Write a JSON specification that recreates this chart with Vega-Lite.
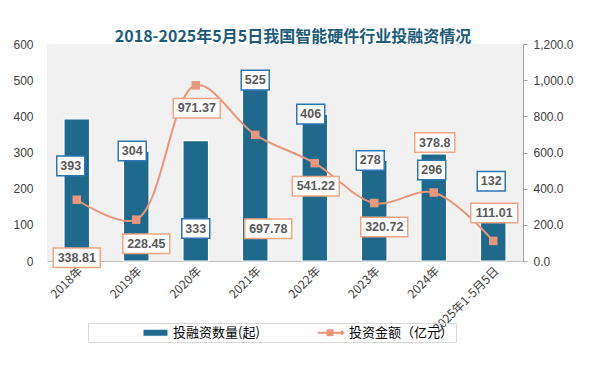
{
  "$schema": "https://vega.github.io/schema/vega-lite/v6.json",
  "width": 476,
  "height": 217,
  "autosize": {"type": "none"},
  "padding": {"left": 47, "top": 44, "right": 68, "bottom": 104},
  "background": "white",
  "title": {
    "text": "2018-2025年5月5日我国智能硬件行业投融资情况",
    "font": "Noto Sans CJK SC",
    "fontSize": 16,
    "fontWeight": "bold",
    "color": "#1d5b7a",
    "anchor": "middle",
    "frame": "group",
    "offset": -7,
    "dx": 8
  },
  "data": {
    "values": [
      {"year": "2018年", "count": 393, "amount": 338.81},
      {"year": "2019年", "count": 304, "amount": 228.45},
      {"year": "2020年", "count": 333, "amount": 971.37},
      {"year": "2021年", "count": 525, "amount": 697.78},
      {"year": "2022年", "count": 406, "amount": 541.22},
      {"year": "2023年", "count": 278, "amount": 320.72},
      {"year": "2024年", "count": 296, "amount": 378.8},
      {"year": "2025年1-5月5日", "count": 132, "amount": 111.01}
    ]
  },
  "encoding": {
    "x": {
      "field": "year",
      "type": "nominal",
      "sort": null,
      "scale": {"paddingInner": 0, "paddingOuter": 0},
      "axis": {
        "title": null,
        "labelAngle": -45,
        "labelFont": "Noto Sans CJK SC",
        "labelFontSize": 12,
        "labelColor": "#404040",
        "domainColor": "#bfbfbf",
        "ticks": false,
        "labelPadding": 4
      }
    }
  },
  "layer": [
    {
      "encoding": {
        "y": {
          "field": "count",
          "type": "quantitative",
          "scale": {"domain": [0, 600], "nice": false},
          "axis": {
            "title": null,
            "orient": "left",
            "values": [0, 100, 200, 300, 400, 500, 600],
            "domain": false,
            "ticks": false,
            "grid": false,
            "labelPadding": 14,
            "labelFont": "Liberation Sans",
            "labelFontSize": 12,
            "labelColor": "#404040"
          }
        }
      },
      "layer": [
        {
          "mark": {"type": "bar", "width": {"band": 0.43}, "stroke": "white", "strokeWidth": 1.2},
          "encoding": {
            "color": {
              "datum": "投融资数量(起)",
              "type": "nominal",
              "scale": {"domain": ["投融资数量(起)", "投资金额（亿元）"], "range": ["#1f6a8c", "#e9967a"]}
            }
          }
        },
        {
          "transform": [{"filter": {"field": "year", "oneOf": ["2019年", "2022年", "2023年"]}}],
          "layer": [
            {"mark": {"type": "point", "shape": "M-1,-0.7H1V0.7H-1Z", "size": 784, "filled": true, "fill": "white", "stroke": "#2e75b6", "strokeWidth": 1.5, "opacity": 1, "xOffset": -4, "yOffset": 0}},
            {"mark": {"type": "text", "style": "lbl", "xOffset": -4, "yOffset": 0}, "encoding": {"text": {"field": "count", "type": "nominal"}}}
          ]
        },
        {
          "transform": [{"filter": {"field": "year", "equal": "2021年"}}],
          "layer": [
            {"mark": {"type": "point", "shape": "M-1,-0.7H1V0.7H-1Z", "size": 784, "filled": true, "fill": "white", "stroke": "#2e75b6", "strokeWidth": 1.5, "opacity": 1, "xOffset": 0, "yOffset": 9}},
            {"mark": {"type": "text", "style": "lbl", "xOffset": 0, "yOffset": 9}, "encoding": {"text": {"field": "count", "type": "nominal"}}}
          ]
        },
        {
          "transform": [{"filter": {"field": "year", "equal": "2024年"}}],
          "layer": [
            {"mark": {"type": "point", "shape": "M-1,-0.7H1V0.7H-1Z", "size": 784, "filled": true, "fill": "white", "stroke": "#2e75b6", "strokeWidth": 1.5, "opacity": 1, "xOffset": -2, "yOffset": 16}},
            {"mark": {"type": "text", "style": "lbl", "xOffset": -2, "yOffset": 16}, "encoding": {"text": {"field": "count", "type": "nominal"}}}
          ]
        },
        {
          "transform": [{"filter": {"field": "year", "equal": "2018年"}}],
          "layer": [
            {"mark": {"type": "point", "shape": "M-1,-0.7H1V0.7H-1Z", "size": 784, "filled": true, "fill": "white", "stroke": "#2e75b6", "strokeWidth": 1.5, "opacity": 1, "xOffset": -6, "yOffset": 47}},
            {"mark": {"type": "text", "style": "lbl", "xOffset": -6, "yOffset": 47}, "encoding": {"text": {"field": "count", "type": "nominal"}}}
          ]
        },
        {
          "transform": [{"filter": {"field": "year", "equal": "2020年"}}],
          "layer": [
            {"mark": {"type": "point", "shape": "M-1,-0.7H1V0.7H-1Z", "size": 784, "filled": true, "fill": "white", "stroke": "#2e75b6", "strokeWidth": 1.5, "opacity": 1, "xOffset": 0, "yOffset": 88}},
            {"mark": {"type": "text", "style": "lbl", "xOffset": 0, "yOffset": 88}, "encoding": {"text": {"field": "count", "type": "nominal"}}}
          ]
        },
        {
          "transform": [{"filter": {"field": "year", "equal": "2025年1-5月5日"}}],
          "layer": [
            {"mark": {"type": "point", "shape": "M-1,-0.7H1V0.7H-1Z", "size": 784, "filled": true, "fill": "white", "stroke": "#2e75b6", "strokeWidth": 1.5, "opacity": 1, "xOffset": -2, "yOffset": -32}},
            {"mark": {"type": "text", "style": "lbl", "xOffset": -2, "yOffset": -32}, "encoding": {"text": {"field": "count", "type": "nominal"}}}
          ]
        }
      ]
    },
    {
      "encoding": {
        "y": {
          "field": "amount",
          "type": "quantitative",
          "scale": {"domain": [0, 1200], "nice": false},
          "axis": {
            "title": null,
            "orient": "right",
            "values": [0, 200, 400, 600, 800, 1000, 1200],
            "format": ",.1f",
            "grid": false,
            "domainColor": "#a6a6a6",
            "tickColor": "#a6a6a6",
            "tickSize": 4,
            "labelPadding": 6,
            "labelFont": "Liberation Sans",
            "labelFontSize": 12,
            "labelColor": "#404040"
          }
        }
      },
      "layer": [
        {
          "mark": {"type": "line", "interpolate": "catmull-rom", "strokeWidth": 2},
          "encoding": {"color": {"datum": "投资金额（亿元）", "type": "nominal"}}
        },
        {
          "mark": {"type": "point", "shape": "square", "size": 72, "filled": true, "fill": "#e9967a", "opacity": 1}
        },
        {
          "mark": {"type": "point", "filled": true, "opacity": 0},
          "encoding": {
            "color": {"datum": "投资金额（亿元）", "type": "nominal"},
            "shape": {
              "datum": "投资金额（亿元）",
              "type": "nominal",
              "scale": {
                "domain": ["投融资数量(起)", "投资金额（亿元）"],
                "range": ["M-1.6,-0.4H1.6V0.4H-1.6Z", "M-1.85,-0.13H1.6V0.13H-1.85ZM-0.67,-0.47H0.27V0.47H-0.67ZM1.4,-0.35L1.75,0L1.4,0.35L1.05,0Z"]
              }
            }
          }
        },
        {
          "transform": [{"filter": {"field": "year", "oneOf": ["2019年", "2023年"]}}],
          "layer": [
            {"mark": {"type": "point", "shape": "M-1,-0.415H1V0.415H-1Z", "size": 2209, "filled": true, "fill": "white", "stroke": "#f0a585", "strokeWidth": 1.5, "opacity": 1, "xOffset": 10, "yOffset": 24}},
            {"mark": {"type": "text", "style": "lbl", "xOffset": 10, "yOffset": 24}, "encoding": {"text": {"field": "amount", "type": "nominal"}}}
          ]
        },
        {
          "transform": [{"filter": {"field": "year", "oneOf": ["2020年", "2022年"]}}],
          "layer": [
            {"mark": {"type": "point", "shape": "M-1,-0.415H1V0.415H-1Z", "size": 2209, "filled": true, "fill": "white", "stroke": "#f0a585", "strokeWidth": 1.5, "opacity": 1, "xOffset": 1, "yOffset": 23}},
            {"mark": {"type": "text", "style": "lbl", "xOffset": 1, "yOffset": 23}, "encoding": {"text": {"field": "amount", "type": "nominal"}}}
          ]
        },
        {
          "transform": [{"filter": {"field": "year", "equal": "2018年"}}],
          "layer": [
            {"mark": {"type": "point", "shape": "M-1,-0.415H1V0.415H-1Z", "size": 2209, "filled": true, "fill": "white", "stroke": "#f0a585", "strokeWidth": 1.5, "opacity": 1, "xOffset": 0, "yOffset": 58}},
            {"mark": {"type": "text", "style": "lbl", "xOffset": 0, "yOffset": 58}, "encoding": {"text": {"field": "amount", "type": "nominal"}}}
          ]
        },
        {
          "transform": [{"filter": {"field": "year", "equal": "2021年"}}],
          "layer": [
            {"mark": {"type": "point", "shape": "M-1,-0.415H1V0.415H-1Z", "size": 2209, "filled": true, "fill": "white", "stroke": "#f0a585", "strokeWidth": 1.5, "opacity": 1, "xOffset": 13, "yOffset": 94}},
            {"mark": {"type": "text", "style": "lbl", "xOffset": 13, "yOffset": 94}, "encoding": {"text": {"field": "amount", "type": "nominal"}}}
          ]
        },
        {
          "transform": [{"filter": {"field": "year", "equal": "2024年"}}],
          "layer": [
            {"mark": {"type": "point", "shape": "M-1,-0.49H1V0.49H-1Z", "size": 1600, "filled": true, "fill": "white", "stroke": "#f0a585", "strokeWidth": 1.5, "opacity": 1, "xOffset": 1, "yOffset": -50}},
            {"mark": {"type": "text", "style": "lbl", "xOffset": 1, "yOffset": -50}, "encoding": {"text": {"field": "amount", "type": "nominal"}}}
          ]
        },
        {
          "transform": [{"filter": {"field": "year", "equal": "2025年1-5月5日"}}],
          "layer": [
            {"mark": {"type": "point", "shape": "M-1,-0.415H1V0.415H-1Z", "size": 2209, "filled": true, "fill": "white", "stroke": "#f0a585", "strokeWidth": 1.5, "opacity": 1, "xOffset": 1, "yOffset": -28}},
            {"mark": {"type": "text", "style": "lbl", "xOffset": 1, "yOffset": -28}, "encoding": {"text": {"field": "amount", "type": "nominal"}}}
          ]
        }
      ]
    }
  ],
  "resolve": {"scale": {"y": "independent"}},
  "config": {
    "view": {"stroke": null, "fill": "#f1f1f1"},
    "legend": {
      "orient": "none",
      "legendX": 41,
      "legendY": 279,
      "direction": "horizontal",
      "title": null,
      "strokeColor": "#d9d9d9",
      "padding": 2,
      "symbolSize": 225,
      "symbolOffset": 58,
      "symbolOpacity": 1,
      "symbolStrokeWidth": 0,
      "labelOffset": 10,
      "columnPadding": 6,
      "labelFont": "Noto Sans CJK SC",
      "labelFontSize": 13,
      "labelColor": "#000000"
    },
    "style": {
      "lbl": {"font": "Liberation Sans", "fontSize": 12.5, "fontWeight": "bold", "color": "#595959", "fill": "#595959", "align": "center", "baseline": "middle"}
    }
  }
}
